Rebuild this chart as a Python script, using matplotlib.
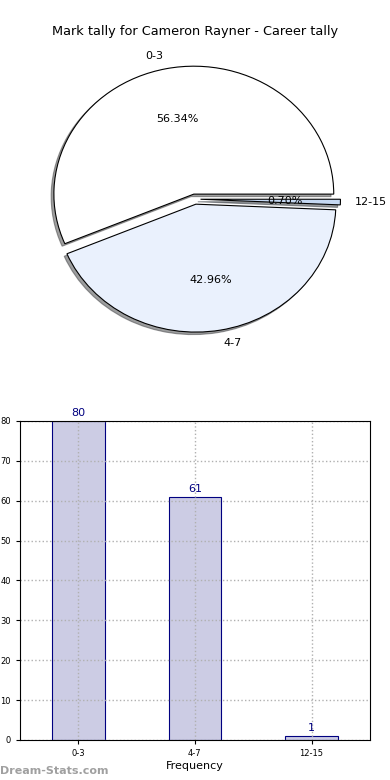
import numpy as np
import matplotlib
matplotlib.use('Agg')
import matplotlib.pyplot as plt

# data
cats = ['0-3', '4-7', '12-15']
counts = [80, 61, 1]
pie_colors = ['#ffffff', '#eaf1fd', '#c5d8f2']

fig = plt.figure(figsize=(3.9, 7.8), dpi=100)

# pie
ax1 = fig.add_axes([0.0513, 0.5397, 0.897, 0.41])
ax1.pie(counts, labels=cats, colors=pie_colors, explode=[0.04, 0.04, 0.04],
        autopct='%1.2f%%', startangle=0,
        shadow={'ox': -0.014, 'oy': -0.014, 'shade': 0.75},
        wedgeprops={'edgecolor': 'black', 'linewidth': 0.8},
        textprops={'fontsize': 8})
ax1.set_aspect('auto')
ax1.set_xlim(-1.25, 1.25)
ax1.set_ylim(-1.25, 1.25)
ax1.set_title('Mark tally for Cameron Rayner - Career tally', fontsize=9.3, pad=3)

# bars
ax2 = fig.add_axes([0.0513, 0.0513, 0.897, 0.409])
x = np.arange(len(cats))
ax2.bar(x, counts, width=0.45, color='#cccce4', edgecolor='navy', linewidth=0.8, zorder=2)
for xi, c in zip(x, counts):
    ax2.text(xi, c + 0.8, str(c), ha='center', va='bottom', color='navy', fontsize=8)
ax2.set_xlim(-0.5, 2.5)
ax2.set_ylim(0, 80)
ax2.set_yticks(range(0, 81, 10))
ax2.set_xticks(x)
ax2.set_xticklabels(cats)
ax2.tick_params(labelsize=6, length=3)
ax2.set_axisbelow(False)
ax2.grid(True, linestyle=':', color='#b0b0b0', linewidth=1)
for sp in ax2.spines.values():
    sp.set_zorder(4)
ax2.set_xlabel('Frequency', fontsize=8, labelpad=2)

fig.text(0.0, 0.008, 'Dream-Stats.com', fontsize=8, color='#a0a0a0', fontweight='bold')

fig.savefig('out.png')
